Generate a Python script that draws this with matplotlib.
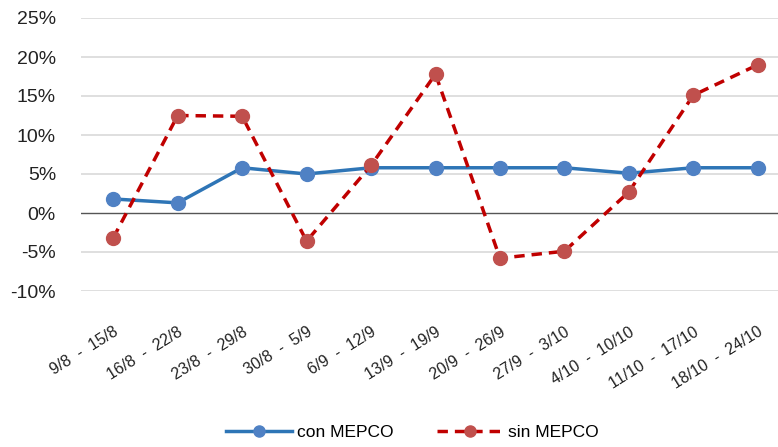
import matplotlib.pyplot as plt

plt.rcParams['font.family'] = ['Liberation Sans', 'DejaVu Sans']

semanas = ["9/8  -  15/8", "16/8  -  22/8", "23/8  -  29/8", "30/8  -  5/9",
           "6/9  -  12/9", "13/9  -  19/9", "20/9  -  26/9", "27/9  -  3/10",
           "4/10  -  10/10", "11/10  -  17/10", "18/10  -  24/10"]
con_mepco = [1.8, 1.3, 5.8, 5.0, 5.8, 5.8, 5.8, 5.8, 5.1, 5.8, 5.8]
sin_mepco = [-3.2, 12.5, 12.4, -3.6, 6.1, 17.8, -5.8, -4.9, 2.7, 15.1, 19.0]
yticks = [-10, -5, 0, 5, 10, 15, 20, 25]

fig = plt.figure(figsize=(7.78, 4.47), dpi=100)
ax = fig.add_axes([81/778, 156/447, 709/778, 273/447])

x = list(range(len(semanas)))
ax.plot(x, con_mepco, "-o", color="#2e75b6", lw=2.5, ms=10,
        markerfacecolor="#4f81c4", markeredgecolor="#4f81c4", label="con MEPCO", zorder=3)
ax.plot(x, sin_mepco, "--o", color="#c00000", lw=2.5, ms=10, dashes=(3, 2),
        markerfacecolor="#c0504d", markeredgecolor="#c0504d", label="sin MEPCO", zorder=4)

for y in yticks:
    if y == 0:
        ax.axhline(y, color="#555555", lw=1, zorder=2)
    else:
        ax.axhline(y, color="#d9d9d9", lw=1.2, zorder=1)

ax.set_xlim(-0.5, len(semanas) - 0.5)
ax.set_ylim(-10, 25)
ax.set_yticks(yticks)
ax.set_yticklabels([f"{y}%" for y in yticks], fontsize=14, color="#222222")
ax.set_xticks(x)
ax.set_xticklabels(semanas, rotation=32, ha="right", rotation_mode="anchor",
                   fontsize=11.5, color="#222222")
ax.tick_params(axis="y", length=0, pad=18)
ax.tick_params(axis="x", length=0, pad=24)
for s in ax.spines.values():
    s.set_visible(False)

leg = fig.legend(loc="lower center", bbox_to_anchor=(0.53, -0.02), ncol=2, frameon=False,
                 fontsize=12.5, handlelength=3.8, handletextpad=0.3, columnspacing=2.5,
                 markerscale=0.8)

fig.savefig("out.png", dpi=100)
